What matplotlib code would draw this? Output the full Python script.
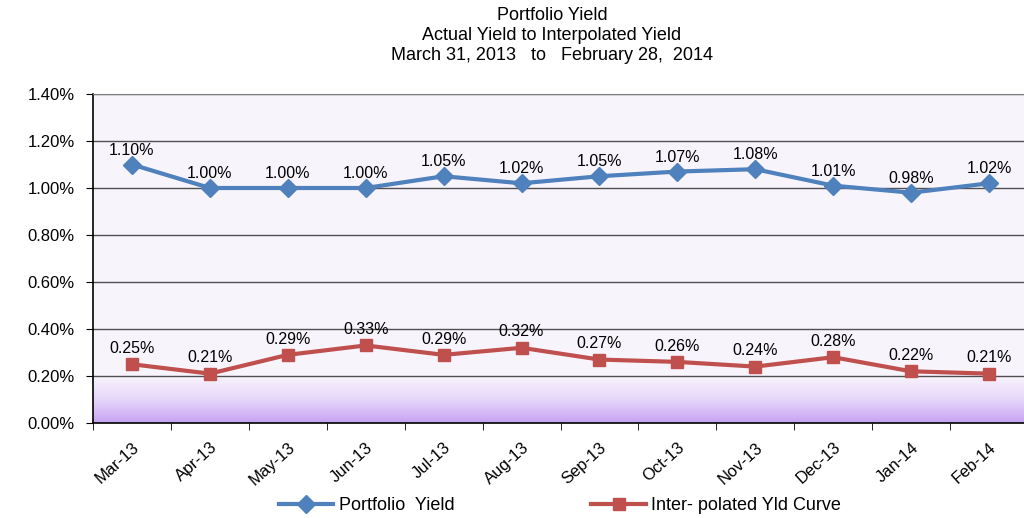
import matplotlib
matplotlib.use("Agg")
import matplotlib.pyplot as plt
import numpy as np
from matplotlib.ticker import FuncFormatter, FixedLocator
from matplotlib.colors import LinearSegmentedColormap

plt.rcParams['font.family'] = ['Liberation Sans', 'DejaVu Sans']

categories = ["Mar-13", "Apr-13", "May-13", "Jun-13", "Jul-13", "Aug-13",
              "Sep-13", "Oct-13", "Nov-13", "Dec-13", "Jan-14", "Feb-14"]
portfolio = [1.10, 1.00, 1.00, 1.00, 1.05, 1.02, 1.05, 1.07, 1.08, 1.01, 0.98, 1.02]
interp = [0.25, 0.21, 0.29, 0.33, 0.29, 0.32, 0.27, 0.26, 0.24, 0.28, 0.22, 0.21]
y_ticks = [0.0, 0.2, 0.4, 0.6, 0.8, 1.0, 1.2, 1.4]

blue = "#4F81BD"
red = "#C0504D"

fig = plt.figure(figsize=(10.24, 5.18), dpi=100)
W, H = 1024, 518
left, right, top, bottom = 93, 1028, 94, 423
ax = fig.add_axes([left / W, (H - bottom) / H, (right - left) / W, (bottom - top) / H])

x = np.arange(len(categories))
ax.set_xlim(-0.5, len(categories) - 0.5)
ax.set_ylim(0, 1.4)
ax.set_facecolor("#F8F4FC")

# gradient band from 0 to 0.2%
cmap = LinearSegmentedColormap.from_list("g", ["#C7A2F3", "#E6D6FA", "#F8F4FC"])
grad = np.linspace(0, 1, 256).reshape(-1, 1)
ax.imshow(grad, extent=[-0.5, len(categories) - 0.5, 0, 0.2], origin="lower",
          aspect="auto", cmap=cmap, zorder=0)

for yt in y_ticks[1:]:
    ax.axhline(yt, color="#505050", lw=1.0, zorder=1)

ax.plot(x, portfolio, color=blue, lw=3, marker="D", ms=9, zorder=3,
        label="Portfolio  Yield")
ax.plot(x, interp, color=red, lw=3, marker="s", ms=9, zorder=3,
        label="Inter- polated Yld Curve")

for xi, v in zip(x, portfolio):
    ax.annotate(f"{v:.2f}%", (xi, v), xytext=(0, 5), textcoords="offset points",
                ha="center", va="bottom", fontsize=11.5, zorder=4)
for xi, v in zip(x, interp):
    ax.annotate(f"{v:.2f}%", (xi, v), xytext=(0, 6), textcoords="offset points",
                ha="center", va="bottom", fontsize=11.5, zorder=4)

ax.yaxis.set_major_locator(FixedLocator(y_ticks))
ax.yaxis.set_major_formatter(FuncFormatter(lambda v, p: f"{v:.2f}%"))
ax.tick_params(axis="y", direction="out", length=5, labelsize=12, color="black", pad=8)

ax.set_xticks(x)
ax.set_xticklabels(categories, rotation=42, ha="right", rotation_mode="anchor", fontsize=12)
ax.tick_params(axis="x", which="major", length=0, pad=12)
ax.set_xticks(np.arange(-0.5, len(categories), 1), minor=True)
ax.tick_params(axis="x", which="minor", direction="out", length=5, color="black")

for s in ["left", "bottom"]:
    ax.spines[s].set_color("black")
    ax.spines[s].set_linewidth(1.2)
ax.spines["top"].set_color("#808080")
ax.spines["right"].set_color("#808080")

fig.text(552 / W, 1 - 15 / H, "Portfolio Yield", ha="center", va="center", fontsize=13)
fig.text(552 / W, 1 - 35 / H, "Actual Yield to Interpolated Yield", ha="center", va="center", fontsize=13)
fig.text(552 / W, 1 - 56 / H, "March 31, 2013   to   February 28,  2014", ha="center", va="center", fontsize=13)

fig.legend(loc="center", bbox_to_anchor=(560 / W, 1 - 506 / H), ncol=2, frameon=False,
           fontsize=13, handlelength=3, columnspacing=7.6, handletextpad=0.3,
           borderaxespad=0)

fig.savefig("out.png", dpi=100)
